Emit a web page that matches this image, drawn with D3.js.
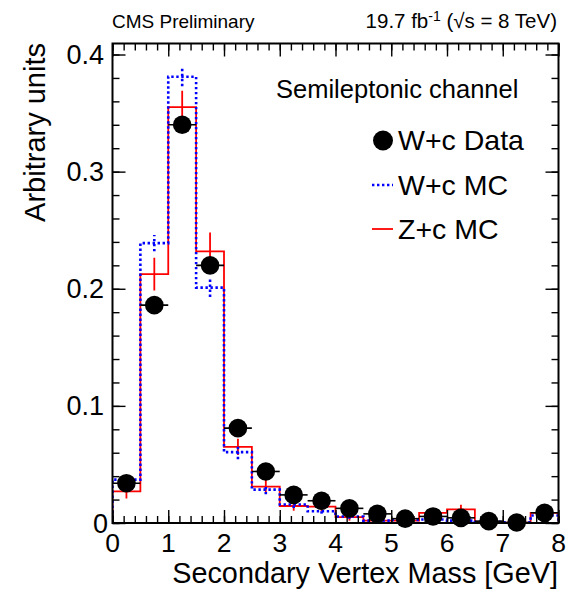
<!DOCTYPE html>
<html>
<head>
<meta charset="utf-8">
<script src="https://cdn.jsdelivr.net/npm/d3@7"></script>
<style>
  html, body { margin: 0; padding: 0; background: #fff; }
  svg { display: block; font-family: "Liberation Sans", Arial, Helvetica, sans-serif; }
</style>
</head>
<body>
<svg id="chart" width="577" height="589"></svg>
<script>
// Secondary vertex mass, 16 bins of 0.5 GeV from 0 to 8 GeV
const binEdges = d3.range(0, 8.0001, 0.5);
const binCenters = d3.range(0.25, 8, 0.5);

// W+c data (points)
const dataValues = [0.034, 0.186, 0.340, 0.220, 0.081, 0.044, 0.024, 0.019,
                    0.0125, 0.0078, 0.0037, 0.0056, 0.0044, 0.0016, 0.0004, 0.0087];
const dataErrors = [0.003, 0.005, 0.006, 0.005, 0.003, 0.003, 0.002, 0.002,
                    0.002, 0.0015, 0.0015, 0.0015, 0.0015, 0.001, 0.001, 0.0015];

// W+c simulation (blue dotted)
const wcMC = [0.037, 0.239, 0.381, 0.201, 0.0605, 0.0285, 0.0158, 0.010,
              0.0056, 0.002, 0.0027, 0.003, 0.002, 0.001, 0.0005, 0.0064];
const wcMCErr = [0.003, 0.007, 0.008, 0.008, 0.006, 0.004, 0.003, 0.002,
                 0.002, 0.001, 0.001, 0.001, 0.001, 0.001, 0.001, 0.002];

// Z+c simulation (red solid)
const zcMC = [0.027, 0.2125, 0.355, 0.232, 0.065, 0.031, 0.0145, 0.014,
              0.005, 0.002, 0.002, 0.0087, 0.0116, 0.001, 0.0003, 0.0087];
const zcMCErr = [0.006, 0.014, 0.014, 0.016, 0.007, 0.006, 0.004, 0.004,
                 0.003, 0.002, 0.002, 0.003, 0.004, 0.002, 0.001, 0.003];

const xTicks = [0, 1, 2, 3, 4, 5, 6, 7, 8];
const yTicks = [0, 0.1, 0.2, 0.3, 0.4];
const yTickLabels = ["0", "0.1", "0.2", "0.3", "0.4"];

const svg = d3.select("#chart");
const frame = { left: 112.5, right: 558.5, top: 43.5, bottom: 523 };

const x = d3.scaleLinear().domain([0, 8]).range([frame.left, frame.right]);
const y = d3.scaleLinear().domain([0, 0.4094]).range([frame.bottom, frame.top]);

const BLUE = "#0000ff", RED = "#ff0000";
svg.append("defs").append("clipPath").attr("id", "plotClip")
  .append("rect").attr("x", frame.left).attr("y", frame.top)
  .attr("width", frame.right - frame.left).attr("height", frame.bottom - frame.top);

const plot = svg.append("g").attr("clip-path", "url(#plotClip)");

// Histogram outline: start and end on the baseline
function stepPoints(values) {
  const pts = [[0, 0]];
  values.forEach((v, i) => pts.push([binEdges[i], v]));
  pts.push([8, values[values.length - 1]]);
  pts.push([8, 0]);
  return pts;
}
const step = d3.line().x(d => x(d[0])).y(d => y(d[1])).curve(d3.curveStepAfter);

function drawHist(values, errs, color, dash) {
  const g = plot.append("g");
  g.append("path")
    .attr("d", step(stepPoints(values)))
    .attr("fill", "none").attr("stroke", color)
    .attr("stroke-width", dash ? 2.6 : 1.8)
    .attr("stroke-dasharray", dash || null);
  g.selectAll("line.err").data(values).join("line")
    .attr("x1", (d, i) => x(binCenters[i])).attr("x2", (d, i) => x(binCenters[i]))
    .attr("y1", (d, i) => y(d - errs[i])).attr("y2", (d, i) => y(d + errs[i]))
    .attr("stroke", color).attr("stroke-width", dash ? 2.6 : 1.8)
    .attr("stroke-dasharray", dash || null);
}
drawHist(zcMC, zcMCErr, RED, null);
drawHist(wcMC, wcMCErr, BLUE, "2.4,2.6");

// Data points with bin-width horizontal bars
const dg = plot.append("g");
dg.selectAll("line.h").data(dataValues).join("line")
  .attr("x1", (d, i) => x(binEdges[i])).attr("x2", (d, i) => x(binEdges[i + 1]))
  .attr("y1", d => y(d)).attr("y2", d => y(d))
  .attr("stroke", "#000").attr("stroke-width", 1.6);
dg.selectAll("line.v").data(dataValues).join("line")
  .attr("x1", (d, i) => x(binCenters[i])).attr("x2", (d, i) => x(binCenters[i]))
  .attr("y1", (d, i) => y(d - dataErrors[i])).attr("y2", (d, i) => y(d + dataErrors[i]))
  .attr("stroke", "#000").attr("stroke-width", 1.6);
svg.append("g").selectAll("circle").data(dataValues).join("circle")
  .attr("cx", (d, i) => x(binCenters[i])).attr("cy", d => y(d))
  .attr("r", 9.3).attr("fill", "#000");

// Axes: ROOT-style ticks on all four sides, pointing inward
const xMinor = d3.range(0, 8.0001, 0.2);
const yMinor = d3.range(0, 0.4001, 0.02);
const bottomAxis = d3.axisTop(x).tickValues(xMinor).tickSize(7).tickFormat("");
const bottomMajor = d3.axisTop(x).tickValues(xTicks).tickSize(13).tickFormat("");
const topAxis = d3.axisBottom(x).tickValues(xMinor).tickSize(7).tickFormat("");
const topMajor = d3.axisBottom(x).tickValues(xTicks).tickSize(13).tickFormat("");
const leftAxis = d3.axisRight(y).tickValues(yMinor).tickSize(7).tickFormat("");
const leftMajor = d3.axisRight(y).tickValues(yTicks).tickSize(13).tickFormat("");
const rightAxis = d3.axisLeft(y).tickValues(yMinor).tickSize(7).tickFormat("");
const rightMajor = d3.axisLeft(y).tickValues(yTicks).tickSize(13).tickFormat("");

function addAxis(axis, tx, ty) {
  const g = svg.append("g").attr("transform", `translate(${tx},${ty})`).call(axis);
  g.select(".domain").remove();
  g.selectAll(".tick line").attr("stroke", "#000").attr("stroke-width", 1.4);
  return g;
}
addAxis(bottomAxis, 0, frame.bottom);
addAxis(bottomMajor, 0, frame.bottom);
addAxis(topAxis, 0, frame.top);
addAxis(topMajor, 0, frame.top);
addAxis(leftAxis, frame.left, 0);
addAxis(leftMajor, frame.left, 0);
addAxis(rightAxis, frame.right, 0);
addAxis(rightMajor, frame.right, 0);

svg.append("rect")
  .attr("x", frame.left).attr("y", frame.top)
  .attr("width", frame.right - frame.left).attr("height", frame.bottom - frame.top)
  .attr("fill", "none").attr("stroke", "#000").attr("stroke-width", 2);

// Tick labels
svg.append("g").selectAll("text").data(xTicks).join("text")
  .attr("x", d => x(d)).attr("y", 552)
  .attr("text-anchor", "middle").attr("font-size", 26.5).text(d => d);
svg.append("g").selectAll("text").data(yTicks).join("text")
  .attr("x", d => d === 0 ? 108 : 104).attr("y", d => y(d) + (d === 0 ? 10 : 9.5))
  .attr("text-anchor", "end").attr("font-size", 27).text((d, i) => yTickLabels[i]);

// Axis titles
svg.append("text").attr("x", 558).attr("y", 583)
  .attr("text-anchor", "end").attr("font-size", 28.8)
  .text("Secondary Vertex Mass [GeV]");
svg.append("text")
  .attr("transform", "translate(45,43) rotate(-90)")
  .attr("text-anchor", "end").attr("font-size", 29)
  .text("Arbitrary units");

// Header
svg.append("text").attr("x", 112).attr("y", 28).attr("font-size", 19)
  .text("CMS Preliminary");
const lumi = svg.append("text").attr("x", 557).attr("y", 28)
  .attr("text-anchor", "end").attr("font-size", 20.5);
lumi.append("tspan").text("19.7 fb");
lumi.append("tspan").attr("dy", -7).attr("font-size", 14).text("-1");
lumi.append("tspan").attr("dy", 7).text(" (\u221As = 8 TeV)");

// Legend
svg.append("text").attr("x", 276).attr("y", 98).attr("font-size", 25.5)
  .text("Semileptonic channel");
const legend = svg.append("g");
const entries = [
  { label: "W+c Data", y: 150, kind: "point" },
  { label: "W+c MC", y: 195, kind: "blue" },
  { label: "Z+c MC", y: 239, kind: "red" }
];
entries.forEach(e => {
  if (e.kind === "point") {
    legend.append("circle").attr("cx", 383).attr("cy", e.y - 9.5).attr("r", 10).attr("fill", "#000");
  } else {
    legend.append("line").attr("x1", 372).attr("x2", 393)
      .attr("y1", e.y - 10).attr("y2", e.y - 10)
      .attr("stroke", e.kind === "blue" ? BLUE : RED)
      .attr("stroke-width", e.kind === "blue" ? 2.4 : 1.8)
      .attr("stroke-dasharray", e.kind === "blue" ? "2.4,2.6" : null);
  }
  legend.append("text").attr("x", 398).attr("y", e.y).attr("font-size", 28.5).text(e.label);
});
</script>
</body>
</html>
